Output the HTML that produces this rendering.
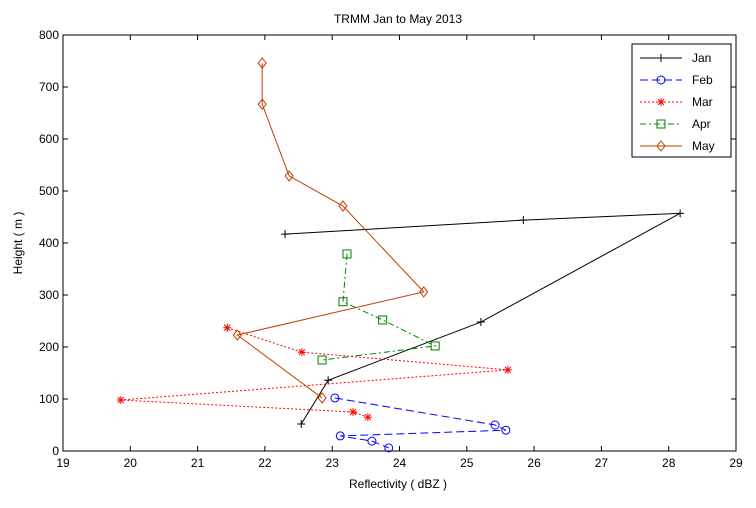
<!DOCTYPE html>
<html><head><meta charset="utf-8"><style>
body{margin:0;background:#fff;}
svg text{font-family:"Liberation Sans",sans-serif;font-size:12px;fill:#000;}
</style></head><body>
<svg id="chart" width="756" height="503" xmlns="http://www.w3.org/2000/svg">
<rect width="756" height="503" fill="#fff"/>
<text x="398" y="23" text-anchor="middle">TRMM Jan to May 2013</text>
<text x="398" y="488" text-anchor="middle">Reflectivity ( dBZ )</text>
<text transform="translate(22,243) rotate(-90)" text-anchor="middle">Height ( m )</text>
<g id="axes"></g>
<g id="series"></g>
<g id="legend"></g>
</svg>
<script>
const xTicks=[19,20,21,22,23,24,25,26,27,28,29];
const yTicks=[0,100,200,300,400,500,600,700,800];
const seriesNames=["Jan","Feb","Mar","Apr","May"];
const janX=[22.30,25.84,28.17,25.21,22.94,22.54];
const janY=[417,444,457,248,136,52];
const febX=[23.04,25.42,25.58,23.12,23.59,23.84];
const febY=[102,50,40,29,19,6];
const marX=[21.44,22.55,25.61,19.86,23.31,23.53];
const marY=[237,190,156,98,75,65];
const aprX=[23.22,23.16,23.75,24.53,22.85];
const aprY=[379,287,252,202,175];
const mayX=[21.96,21.96,22.36,23.16,24.36,21.59,22.85];
const mayY=[746,667,529,471,306,223,102];

const NS="http://www.w3.org/2000/svg";
const L=63,R=736,T=35,B=451;
const sx=v=>L+(v-19)/(29-19)*(R-L);
const sy=v=>B-(v-0)/(800-0)*(B-T);
function mk(tag,attrs,parent){const e=document.createElementNS(NS,tag);for(const k in attrs)e.setAttribute(k,attrs[k]);parent.appendChild(e);return e;}
const axes=document.getElementById('axes');
const frame=mk('rect',{x:L,y:T,width:R-L,height:B-T,fill:'none',stroke:'#000','stroke-width':1},axes);


xTicks.forEach(t=>{const x=sx(t);
 mk('line',{x1:x,x2:x,y1:B,y2:B-5,stroke:'#000'},axes);
 mk('line',{x1:x,x2:x,y1:T,y2:T+5,stroke:'#000'},axes);
 const tx=mk('text',{x:x,y:B+16,'text-anchor':'middle'},axes);tx.textContent=t;
 
 });
yTicks.forEach(t=>{const y=sy(t);
 mk('line',{x1:L,x2:L+5,y1:y,y2:y,stroke:'#000'},axes);
 mk('line',{x1:R,x2:R-5,y1:y,y2:y,stroke:'#000'},axes);
 const tx=mk('text',{x:L-4,y:y+4,'text-anchor':'end'},axes);tx.textContent=t;
 
 });
const styles=[
 {c:'#000',dash:'',m:'plus'},
 {c:'#0000ff',dash:'8,4',m:'circle'},
 {c:'#ff0000',dash:'2,2',m:'star'},
 {c:'#008000',dash:'6,3,2,3',m:'square'},
 {c:'#c04000',dash:'',m:'diamond'}];
function marker(g,m,x,y,c){
 if(m==='plus'){mk('path',{d:`M${x-4},${y}H${x+4}M${x},${y-4}V${y+4}`,stroke:c,fill:'none'},g);}
 else if(m==='circle'){mk('circle',{cx:x,cy:y,r:4,stroke:c,fill:'none'},g);}
 else if(m==='star'){mk('path',{d:`M${x-4},${y}H${x+4}M${x},${y-4}V${y+4}M${x-3},${y-3}L${x+3},${y+3}M${x-3},${y+3}L${x+3},${y-3}`,stroke:c,fill:'none'},g);}
 else if(m==='square'){mk('rect',{x:x-4,y:y-4,width:8,height:8,stroke:c,fill:'none'},g);}
 else {mk('path',{d:`M${x},${y-5}L${x+4},${y}L${x},${y+5}L${x-4},${y}Z`,stroke:c,fill:'none'},g);}
}
const data=[[janX,janY],[febX,febY],[marX,marY],[aprX,aprY],[mayX,mayY]];
const sg=document.getElementById('series');
data.forEach((d,i)=>{const st=styles[i];
 const g=mk('g',{},sg);
 
 
 const pts=d[0].map((v,j)=>sx(v)+','+sy(d[1][j])).join(' ');
 const pl=mk('polyline',{points:pts,fill:'none',stroke:st.c,'stroke-dasharray':st.dash},g);
 d[0].forEach((v,j)=>marker(g,st.m,sx(v),sy(d[1][j]),st.c));
});
const lg=document.getElementById('legend');


mk('rect',{x:632,y:44,width:99,height:113,fill:'#fff',stroke:'#000'},lg);
seriesNames.forEach((n,i)=>{const st=styles[i];const y=58+i*22;
 const e=mk('g',{},lg);
 
 
 mk('line',{x1:640,x2:682,y1:y,y2:y,stroke:st.c,'stroke-dasharray':st.dash},e);
 marker(e,st.m,661,y,st.c);
 const t=mk('text',{x:692,y:y+4},e);t.textContent=n;});
</script>
</body></html>
